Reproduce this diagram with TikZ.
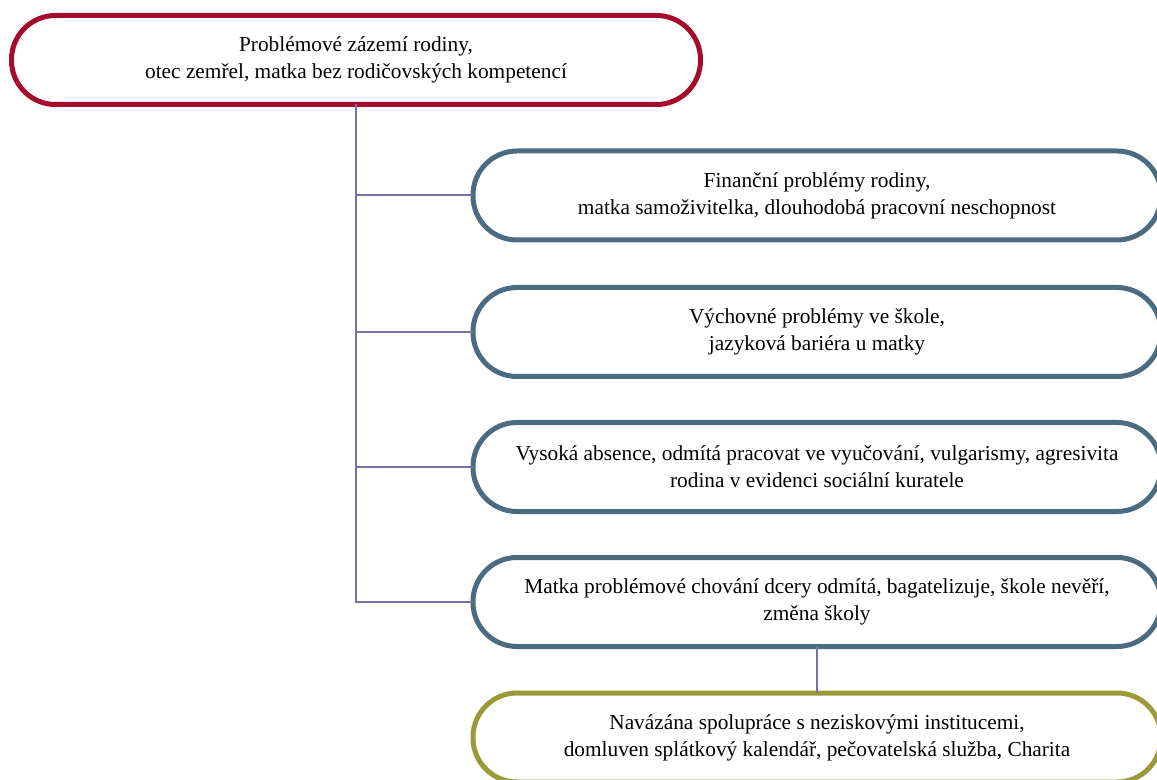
\documentclass[tikz,border=0pt]{standalone}
\usepackage{fontspec}
\setmainfont{Liberation Serif}
\definecolor{famred}{HTML}{A30C2C}
\definecolor{famblue}{HTML}{4B6B80}
\definecolor{famolive}{HTML}{9C9A38}
\definecolor{famline}{HTML}{7A70A8}
\tikzset{
  box/.style={draw, line width=3.75pt, rounded corners=33pt, fill=white,
    minimum width=516pt, minimum height=66.75pt, inner sep=0pt, outer sep=0pt,
    align=center, font=\fontsize{16}{20.25}\selectfont},
  link/.style={draw=famline, line width=1.5pt}
}

\begin{document}
\begin{tikzpicture}[x=0.75pt,y=-0.75pt]
  \useasboundingbox (0,0) rectangle (1157,780);
  \clip (0,0) rectangle (1157,780);
  % family background and the problems that follow from it
  \node[box, draw=famred, minimum width=516.75pt] (rodina) at (356,60)
    {Problémové zázemí rodiny,\\otec zemřel, matka bez rodičovských kompetencí};
  \node[box, draw=famblue] (finance) at (817,195.5)
    {Finanční problémy rodiny,\\matka samoživitelka, dlouhodobá pracovní neschopnost};
  \node[box, draw=famblue] (vychova) at (817,332)
    {Výchovné problémy ve škole,\\jazyková bariéra u matky};
  \node[box, draw=famblue] (absence) at (817,467)
    {Vysoká absence, odmítá pracovat ve vyučování, vulgarismy, agresivita\\rodina v evidenci sociální kuratele};
  \node[box, draw=famblue] (matka) at (817,602)
    {Matka problémové chování dcery odmítá, bagatelizuje, škole nevěří,\\změna školy};
  \node[box, draw=famolive] (pomoc) at (817,737.5)
    {Navázána spolupráce s neziskovými institucemi,\\domluven splátkový kalendář, pečovatelská služba, Charita};
  % connectors
  \draw[link] (rodina.south) |- (matka.west);
  \foreach \n in {finance,vychova,absence}
    \draw[link] (rodina.south |- \n.west) -- (\n.west);
  \draw[link] (matka.south) -- (pomoc.north);
\end{tikzpicture}
\end{document}
